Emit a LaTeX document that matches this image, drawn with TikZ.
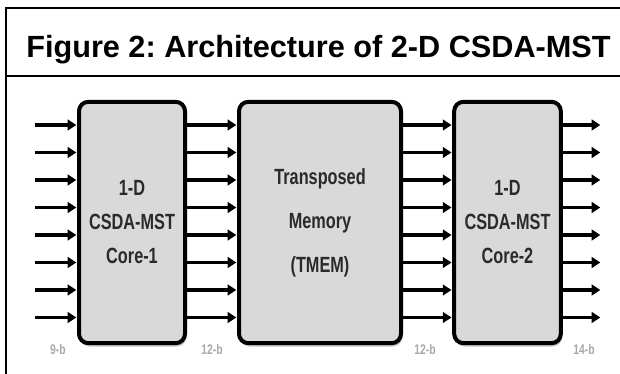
\documentclass[tikz,border=0pt]{standalone}
\usepackage{fontspec}
\setmainfont{Liberation Sans}
\newfontfamily\narrowfont[FakeStretch=0.74]{Liberation Sans}
\usetikzlibrary{arrows.meta,shadows}
\definecolor{boxgray}{HTML}{D9D9D9}
\definecolor{textgray}{HTML}{2A2A2A}
\definecolor{labelgray}{HTML}{A8A8A8}

\begin{document}
\begin{tikzpicture}[
        x=0.75pt, y=-0.75pt,
        core/.style={draw, line width=3pt, rounded corners=7pt, fill=boxgray, minimum height=181pt, inner sep=0pt, align=center, text=textgray, font=\narrowfont\bfseries\fontsize{16.5}{25.5}\selectfont, drop shadow={shadow xshift=1pt, shadow yshift=-2.5pt, fill=black!45}},
        wire/.style={line width=2.6pt, -{Triangle[length=6.5pt,width=8pt]}, shorten >=0.5pt},
        buslabel/.style={text=labelgray, font=\narrowfont\bfseries\fontsize{10.5}{12}\selectfont},
        title/.style={anchor=base west, inner sep=0pt, font=\bfseries\fontsize{23}{26}\selectfont},
        frame/.style={line width=1.4pt}
    ]
        \useasboundingbox (0,0) rectangle (620,374);

        % Frame and title
        \draw[frame] (6,374) -- (6,8) -- (620,8);
        \draw[frame] (6,76) -- (620,76);
        \node[title] (title) at (26,58) {\frenchspacing Figure 2: Architecture of 2-D CSDA-MST};

        % Blocks
        \node[core, minimum width=79.5pt] (core1) at (132,222.5) {1-D\\CSDA-MST\\Core-1};
        \node[core, minimum width=121.5pt, font=\narrowfont\bfseries\fontsize{16.5}{33}\selectfont] (tmem) at (320,222.5) {Transposed\\Memory\\(TMEM)};
        \node[core, minimum width=80pt] (core2) at (507.5,222.5) {1-D\\CSDA-MST\\Core-2};

        % Buses
        \foreach \i in {1,...,8} {
            \coordinate (in\i) at (35, 125+27.5*\i-27.5);
            \coordinate (out\i) at (601, 125+27.5*\i-27.5);
            \draw[wire] (in\i) -- (core1.west |- in\i);
            \draw[wire] (core1.east |- in\i) -- (tmem.west |- in\i);
            \draw[wire] (tmem.east |- in\i) -- (core2.west |- in\i);
            \draw[wire] (core2.east |- in\i) -- (out\i);
        }

        % Bus widths
        \node[buslabel] (w1) at (58,349) {9-b};
        \node[buslabel] (w2) at (212,349) {12-b};
        \node[buslabel] (w3) at (425,349) {12-b};
        \node[buslabel] (w4) at (584,349) {14-b};
    \end{tikzpicture}
\end{document}
